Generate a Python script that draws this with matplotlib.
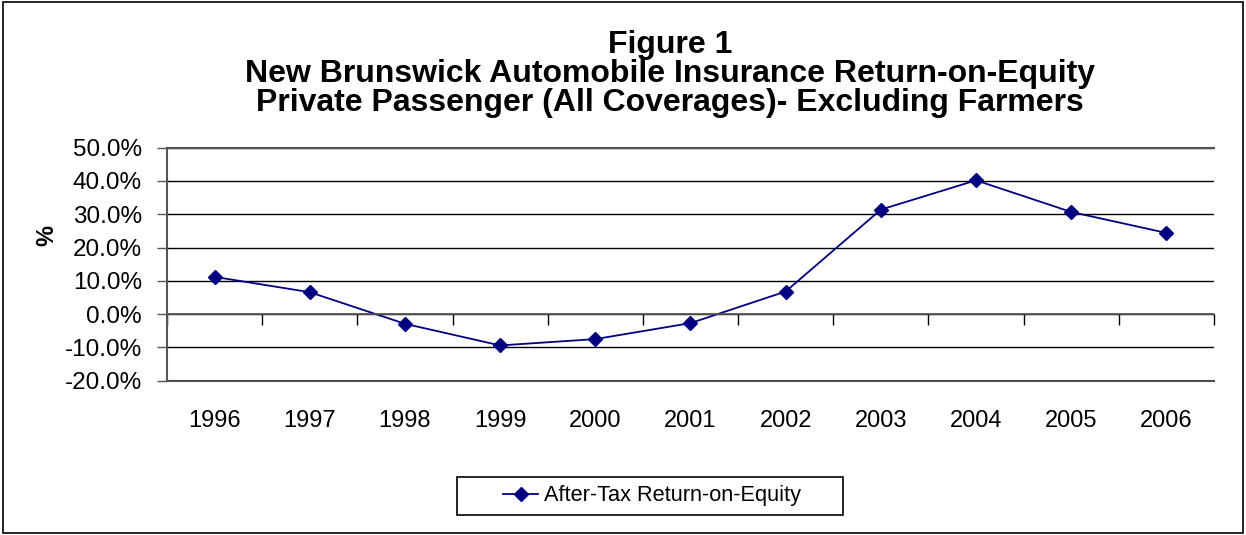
import numpy as np
import matplotlib
matplotlib.use("Agg")
import matplotlib.pyplot as plt
from matplotlib.patches import Rectangle
from matplotlib.ticker import FuncFormatter

years = ['1996', '1997', '1998', '1999', '2000', '2001', '2002', '2003', '2004', '2005', '2006']
roe = [11.2, 6.6, -2.9, -9.4, -7.5, -2.7, 6.8, 31.4, 40.2, 30.7, 24.4]
yticks = [-20, -10, 0, 10, 20, 30, 40, 50]

plt.rcParams['font.family'] = ['Liberation Sans', 'DejaVu Sans']

fig = plt.figure(figsize=(12.46, 5.35), dpi=100)
ax = fig.add_axes([0.134, 0.2884, 0.8403, 0.4355])

x = np.arange(len(years))
navy = '#000080'
ax.plot(x, roe, color=navy, lw=1.3, marker='D', ms=7,
        label='After-Tax Return-on-Equity')

ax.set_xlim(-0.5, len(years) - 0.5)
ax.set_ylim(-20, 50)
ax.set_yticks(yticks)
ax.yaxis.set_major_formatter(FuncFormatter(lambda v, p: '%.1f%%' % v))
ax.tick_params(axis='y', labelsize=17.5, length=7, width=1, color='#555555', pad=11)
ax.grid(axis='y', color='black', lw=1)
ax.set_axisbelow(True)

# category axis crosses at zero, ticks between categories
ax.spines['bottom'].set_position(('data', 0))
ax.spines['bottom'].set_color('#555555')
ax.spines['bottom'].set_linewidth(1.2)
ax.set_xticks(x)
ax.set_xticks(np.arange(len(years) + 1) - 0.5, minor=True)
ax.tick_params(axis='x', which='major', length=0, labelbottom=False)
ax.tick_params(axis='x', which='minor', length=8, width=1, direction='out', color='black')

sec = ax.secondary_xaxis(0)
sec.set_xticks(x)
sec.set_xticklabels(years)
sec.tick_params(length=0, labelsize=17, pad=21)
sec.spines['bottom'].set_color('#555555')
sec.spines['bottom'].set_linewidth(1.5)

for s in ['left', 'top']:
    ax.spines[s].set_color('#555555')
    ax.spines[s].set_linewidth(1.5)
ax.spines['right'].set_visible(False)

ax.set_ylabel('%', fontsize=17, fontweight='bold')
ax.yaxis.set_label_coords(-0.104, 0.625)

fig.text(0.5377, 0.862,
         'Figure 1\nNew Brunswick Automobile Insurance Return-on-Equity\n'
         'Private Passenger (All Coverages)- Excluding Farmers',
         ha='center', va='center', fontsize=23, fontweight='bold', linespacing=0.97)

leg = fig.legend(loc='center', bbox_to_anchor=(652 / 1246, 1 - 496 / 535), fontsize=15.7,
                 frameon=False, handlelength=1.6, borderpad=0.2, handletextpad=0.25)

fig.patches.append(Rectangle((457 / 1246, 1 - 515 / 535), 386 / 1246, 38 / 535,
                             transform=fig.transFigure, fill=False,
                             edgecolor='black', lw=1.2))
fig.patches.append(Rectangle((3 / 1246, 2 / 535), 1240 / 1246, 531 / 535,
                             transform=fig.transFigure, fill=False,
                             edgecolor='black', lw=1.2))

fig.savefig('out.png', dpi=100)
